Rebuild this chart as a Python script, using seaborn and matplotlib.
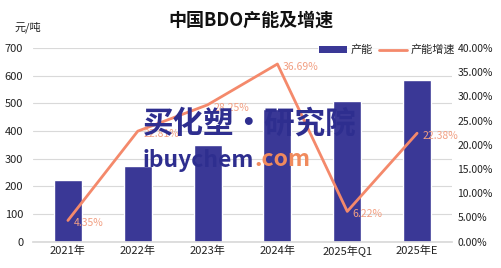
import matplotlib
matplotlib.use("Agg")
import matplotlib.pyplot as plt
import seaborn as sns
import numpy as np
import pandas as pd
from matplotlib.ticker import PercentFormatter, MultipleLocator
from matplotlib.patches import Patch
from matplotlib.lines import Line2D

categories = ["2021年", "2022年", "2023年", "2024年", "2025年Q1", "2025年E"]
capacity = [222, 273, 350, 478, 508, 585]
growth = [4.35, 22.81, 28.25, 36.69, 6.22, 22.38]

BAR = "#3A3896"
LINE = "#F4896B"
LABEL = "#F2A083"

sns.set_theme(style="white")
plt.rcParams["font.family"] = ["Noto Sans CJK SC", "DejaVu Sans"]

fig = plt.figure(figsize=(5.02, 2.68), dpi=100)
ax = fig.add_axes([33/502, 1-241.5/268, (452-33)/502, (241.5-48)/268])

df = pd.DataFrame({"cat": categories, "cap": capacity})
sns.barplot(data=df, x="cat", y="cap", color=BAR, width=0.4, ax=ax, zorder=2, saturation=1)
ax.set_xlim(-0.5, 5.5)
ax.set_ylim(0, 700)
ax.yaxis.set_major_locator(MultipleLocator(100))
ax.grid(axis="y", color="#D9D9D9", lw=0.8, zorder=0)
ax.set_axisbelow(True)
for s in ["top", "right", "left"]:
    ax.spines[s].set_visible(False)
ax.spines["bottom"].set_color("#D9D9D9")
ax.set_xlabel("")
ax.set_ylabel("")
ax.tick_params(axis="both", length=0, labelsize=8, colors="#222222")
ax.tick_params(axis="y", pad=7)
ax.tick_params(axis="x", pad=3)

ax2 = ax.twinx()
sns.lineplot(x=np.arange(len(growth)), y=growth, ax=ax2, color=LINE, lw=2, zorder=3)
ax2.set_ylim(0, 40)
ax2.yaxis.set_major_locator(MultipleLocator(5))
ax2.yaxis.set_major_formatter(PercentFormatter(decimals=2))
for s in ["top", "right", "left", "bottom"]:
    ax2.spines[s].set_visible(False)
ax2.tick_params(axis="y", length=0, labelsize=7.5, colors="#222222", pad=4)
ax2.set_ylabel("")
ax2.grid(False)
for i, v in enumerate(growth):
    ax2.annotate(f"{v:.2f}%", (i, v), xytext=(4, -2), textcoords="offset points",
                 va="center", ha="left", fontsize=7.5, color=LABEL, zorder=4)

fig.text(0.5, 1-20/268, "中国BDO产能及增速", ha="center", va="center",
         fontsize=13, fontweight="bold", color="#111111")
fig.text(15/502, 1-27/268, "元/吨", ha="left", va="center", fontsize=8, color="#222222")

handles = [Patch(facecolor=BAR, edgecolor="none"), Line2D([0], [0], color=LINE, lw=2)]
leg = fig.legend(handles, ["产能", "产能增速"], loc="center right",
                 bbox_to_anchor=(456/502, 1-50/268), ncol=2, frameon=True,
                 fontsize=8, handlelength=2.5, handleheight=0.6, columnspacing=0.6,
                 handletextpad=0.3, borderpad=0.1, borderaxespad=0)
leg.get_frame().set_edgecolor("none")
leg.get_frame().set_facecolor("white")

# watermark
fig.text(143/502, 1-124/268, "买化塑·研究院", ha="left", va="center", fontsize=22,
         fontweight="heavy", color="#2E2E8F", zorder=10)
t1 = fig.text(143/502, 1-160/268, "ibuychem", ha="left", va="center", fontsize=16.5,
              fontweight="bold", color="#2E2E8F", zorder=10)
fig.canvas.draw()
bb = t1.get_window_extent()
fig.text(bb.x1 / fig.bbox.width, 1-160/268, ".com", ha="left", va="center", fontsize=16.5,
         fontweight="bold", color="#F08A5D", zorder=10)

fig.savefig("out.png", dpi=100)
